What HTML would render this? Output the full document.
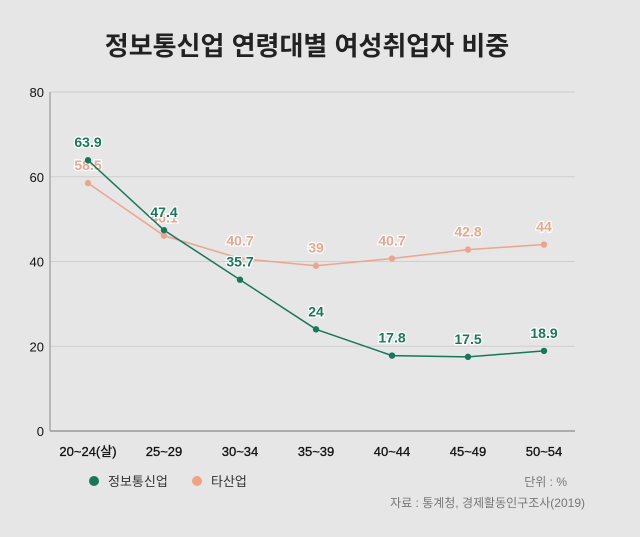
<!DOCTYPE html>
<html><head><meta charset="utf-8"><style>
body{margin:0;background:#e6e6e6;width:640px;height:532px;overflow:hidden;font-family:"Liberation Sans","Noto Sans CJK KR",sans-serif}
</style></head><body>
<svg width="640" height="532" id="c" style="font-family:'Liberation Sans','Noto Sans CJK KR',sans-serif">
<rect width="640" height="532" fill="#e6e6e6"/>
<text x="307" y="55" text-anchor="middle" font-size="26" font-weight="bold" fill="#222">정보통신업 연령대별 여성취업자 비중</text>
<g id="grid"></g><g id="series"></g>
<g>
<circle cx="94" cy="481" r="5" fill="#16775b"/>
<text x="108" y="486" font-size="13" fill="#333">정보통신업</text>
<circle cx="197" cy="481" r="5" fill="#f2a183"/>
<text x="211" y="486" font-size="13" fill="#333">타산업</text>
</g>
<text x="567" y="486" text-anchor="end" font-size="12" fill="#777">단위 : %</text>
<text x="585" y="507" text-anchor="end" font-size="12" fill="#777">자료 : 통계청, 경제활동인구조사(2019)</text>
</svg>
<script>
const categories=["20~24(살)","25~29","30~34","35~39","40~44","45~49","50~54"];
const ictValues=[63.9,47.4,35.7,24,17.8,17.5,18.9];
const otherValues=[58.5,46.1,40.7,39,40.7,42.8,44];
const yTicks=[0,20,40,60,80];
const NS="http://www.w3.org/2000/svg";
const x0=50,x1=575,yBase=431,yTop=92;
const xs=i=>88+i*76;
const ys=v=>yBase-(v/80)*(yBase-yTop);
function mk(t,a,p){const e=document.createElementNS(NS,t);for(const k in a)e.setAttribute(k,a[k]);p.appendChild(e);return e;}
const g=document.getElementById('grid');
yTicks.forEach(v=>{
 if(v>0){const l=mk('line',{x1:x0,x2:x1,y1:ys(v),y2:ys(v),stroke:'#cfcfcf','stroke-width':1},g);
 
 }
 const t=mk('text',{x:44,y:ys(v)+5,'text-anchor':'end','font-size':13,fill:'#111'},g);t.textContent=v;
 
 
});
const ax=mk('line',{x1:x0,x2:x0,y1:yTop,y2:yBase,stroke:'#999','stroke-width':1.2},g);


const bx=mk('line',{x1:x0,x2:x1,y1:yBase,y2:yBase,stroke:'#999','stroke-width':1.5},g);


categories.forEach((c,i)=>{const t=mk('text',{x:xs(i),y:456,'text-anchor':'middle','font-size':13,fill:'#111',stroke:'#111','stroke-width':0.3},g);t.textContent=c;
 
 });
const s=document.getElementById('series');
function series(vals,col,name,dy){
 const l=mk('polyline',{points:vals.map((v,i)=>xs(i)+','+ys(v)).join(' '),fill:'none',stroke:col,'stroke-width':1.5},s);
 
 
 vals.forEach((v,i)=>{
  const c=mk('circle',{cx:xs(i),cy:ys(v),r:3.2,fill:col},s);
  
  
  const t=mk('text',{x:xs(i),y:ys(v)+dy,'text-anchor':'middle','font-size':14,'font-weight':'bold',fill:col,stroke:'#fff','stroke-width':2.5,'paint-order':'stroke'},s);
  t.textContent=v;
  
  
 });
}
series(otherValues,'#eba58c','other',-13);
series(ictValues,'#16775b','ict',-13);
</script>
</body></html>
